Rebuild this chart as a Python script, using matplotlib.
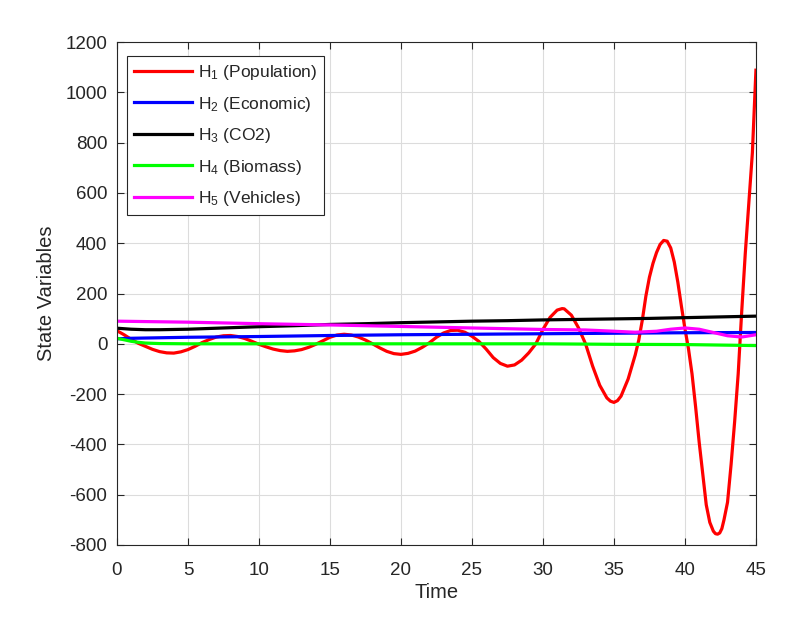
import numpy as np
import matplotlib
matplotlib.use("Agg")
import matplotlib.pyplot as plt

plt.rcParams["font.family"] = ["Liberation Sans", "DejaVu Sans"]
plt.rcParams["mathtext.default"] = "regular"
plt.rcParams["axes.unicode_minus"] = False

# --- data ------------------------------------------------------------------
t_pop = [0, 0.5, 1.0, 1.5, 2.0, 2.5, 3.0, 3.5, 4.0, 4.5, 5.0, 5.5, 6.0, 6.5,
         7.0, 7.5, 8.0, 8.5, 9.0, 9.5, 10.0, 10.5, 11.0, 11.5, 12.0, 12.5,
         13.0, 13.5, 14.0, 14.5, 15.0, 15.5, 16.0, 16.5, 17.0, 17.5, 18.0,
         18.5, 19.0, 19.5, 20.0, 20.5, 21.0, 21.5, 22.0, 22.5, 23.0, 23.5,
         24.0, 24.5, 25.0, 25.5, 26.0, 26.5, 27.0, 27.5, 28.0, 28.5, 29.0,
         29.5, 30.0, 30.5, 31.0, 31.35, 31.5, 32.0, 32.5, 33.0, 33.5, 34.0,
         34.5, 34.75, 35.0, 35.25, 35.5, 36.0, 36.5, 36.75, 37.0, 37.25,
         37.5, 37.75, 38.0, 38.25, 38.5, 38.75, 39.0, 39.25, 39.5, 39.75,
         40.0, 40.25, 40.5, 40.75, 41.0, 41.25, 41.5, 41.75, 42.0, 42.15,
         42.3, 42.45, 42.6, 42.75, 43.0, 43.25, 43.5, 43.75, 44.0, 44.25,
         44.5, 44.75, 45.0]
h_pop = [52, 36, 18, 2, -10, -22, -31, -36, -37, -32, -23, -10, 5, 17,
         27, 32, 33, 29, 21, 10, -2, -12, -21, -27, -30, -28,
         -23, -14, -2, 12, 26, 35, 38, 35, 27, 15, 0,
         -16, -30, -39, -42, -38, -29, -14, 4, 26, 43, 53,
         54, 46, 30, 9, -21, -55, -78, -89, -84, -65, -36,
         0, 57, 105, 134, 140, 139, 114, 64, 0, -89, -165,
         -215, -228, -233, -226, -208, -140, -44, 15, 95, 190,
         265, 320, 363, 395, 411, 408, 381, 325, 245, 150,
         60, -20, -120, -250, -390, -515, -640, -710, -745, -755,
         -757, -752, -735, -700, -630, -480, -310, -120, 130, 360,
         560, 760, 1088]

t_eco = [0, 1, 5, 10, 15, 20, 25, 30, 35, 40, 45]
h_eco = [20, 22, 26, 29, 33, 36, 38, 40, 42, 44, 45]

t_co2 = [0, 1, 2, 3, 5, 7.5, 10, 12.5, 15, 17.5, 20, 22.5, 25, 27.5, 30,
         32.5, 35, 37.5, 40, 42.5, 45]
h_co2 = [62, 58, 56, 56, 58, 63, 68, 72, 77, 80, 84, 87, 90, 92, 95,
         97, 99, 101, 104, 107, 110]

t_bio = [0, 0.5, 1, 1.5, 2, 3, 5, 10, 20, 30, 35, 40, 45]
h_bio = [22, 16, 10, 6, 3, 1, 0, 0, 0, 0, -2, -3, -7]

t_veh = [0, 5, 10, 15, 20, 25, 30, 33, 35, 36.5, 38, 39, 40, 41, 42, 43,
         44, 45]
h_veh = [90, 86, 80, 75, 69, 63, 57, 55, 50, 46, 50, 58, 63, 58, 45, 32,
         27, 36]

series = [
    (t_pop, h_pop, "#ff0000", "H$_1$ (Population)"),
    (t_eco, h_eco, "#0000ff", "H$_2$ (Economic)"),
    (t_co2, h_co2, "#000000", "H$_3$ (CO2)"),
    (t_bio, h_bio, "#00ff00", "H$_4$ (Biomass)"),
    (t_veh, h_veh, "#ff00ff", "H$_5$ (Vehicles)"),
]

fig = plt.figure(figsize=(7.99, 6.31), dpi=100)
ax = fig.add_axes([0.1464, 0.1363, 0.7997, 0.7971])

for t, h, col, lab in series:
    ax.plot(t, h, color=col, lw=2.3, label=lab)

ax.set_xlim(0, 45)
ax.set_ylim(-800, 1200)
ax.set_xticks(np.arange(0, 46, 5))
ax.set_yticks(np.arange(-800, 1201, 200))
ax.grid(True, color="#dcdcdc", lw=0.8)
ax.set_axisbelow(True)

axcol = "#262626"
for s in ax.spines.values():
    s.set_color(axcol)
    s.set_linewidth(0.8)
ax.tick_params(direction="in", length=5, width=0.8, colors=axcol,
               labelsize=13.5, top=True, right=True)
ax.tick_params(axis="x", pad=12)
ax.tick_params(axis="y", pad=7)
for lbl in ax.get_xticklabels() + ax.get_yticklabels():
    lbl.set_color(axcol)

ax.set_xlabel("Time", fontsize=14.5, color=axcol, labelpad=3)
ax.set_ylabel("State Variables", fontsize=14.5, color=axcol, labelpad=7)

leg = ax.legend(loc="upper left", bbox_to_anchor=(0.0156, 0.972),
                borderaxespad=0, fontsize=12.5, handlelength=3.35,
                labelspacing=0.72, handletextpad=0.35, borderpad=0.4,
                fancybox=False, framealpha=1, edgecolor=axcol)
leg.get_frame().set_linewidth(0.8)
for txt in leg.get_texts():
    txt.set_color(axcol)

fig.savefig("out.png", dpi=100)
